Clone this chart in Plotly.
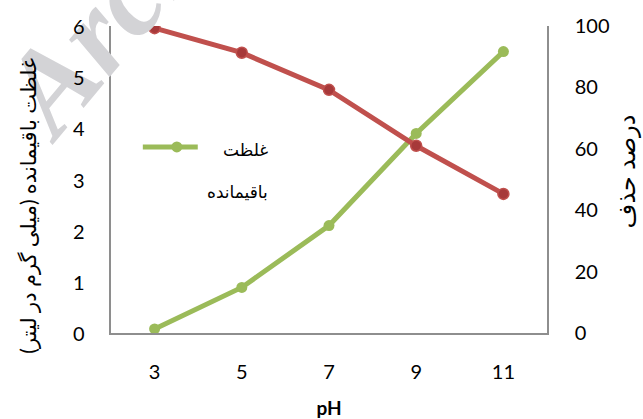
import plotly.graph_objects as go

# pH values tested
ph = [3, 5, 7, 9, 11]
# residual concentration (mg/L), left axis
residual = [0.08, 0.89, 2.1, 3.9, 5.5]
# removal percentage, right axis
removal = [99.3, 91.3, 79.2, 61.0, 45.3]

left_ticks = [0, 1, 2, 3, 4, 5, 6]
right_ticks = [0, 20, 40, 60, 80, 100]

GREEN = "#9BBB59"
RED = "#C0504D"
AXIS = "#8E8E8E"
FONT = "Lato, 'DejaVu Sans', sans-serif"

fig = go.Figure()

fig.add_trace(go.Scatter(
    x=ph, y=removal, yaxis="y2", mode="lines+markers",
    name="درصد حذف",
    line=dict(color=RED, width=5),
    marker=dict(size=11, color="#A7393A", line=dict(color=RED, width=1.5)),
    showlegend=False,
))
fig.add_trace(go.Scatter(
    x=ph, y=residual, mode="lines+markers",
    name="غلظت باقیمانده",
    line=dict(color=GREEN, width=5),
    marker=dict(size=11, color=GREEN),
    showlegend=False,
))

fig.update_layout(
    width=643, height=419,
    margin=dict(l=111, r=96, t=26, b=86, autoexpand=False),
    paper_bgcolor="white", plot_bgcolor="rgba(0,0,0,0)",
    font=dict(family=FONT, size=20, color="#000000"),
    showlegend=False,
    xaxis=dict(
        range=[2, 12], tickvals=ph, ticktext=[str(v) for v in ph],
        showgrid=False, zeroline=False, ticks="",
        showline=True, linecolor=AXIS, linewidth=1.5,
        ticklabelstandoff=20, automargin=False,
        title=dict(text="<b>pH</b>", font=dict(size=19), standoff=20),
    ),
    yaxis=dict(
        range=[0, 6], tickvals=left_ticks,
        showgrid=False, zeroline=False, ticks="",
        showline=True, linecolor=AXIS, linewidth=1.5,
        showticklabels=False, automargin=False,
    ),
    yaxis2=dict(
        range=[0, 100], tickvals=right_ticks, overlaying="y", side="right",
        showgrid=False, zeroline=False, ticks="",
        showline=True, linecolor=AXIS, linewidth=1.5,
        ticklabelstandoff=22, automargin=False,
    ),
)

# faint watermark in the top-left corner (added first so later text sits on top)
fig.add_annotation(
    text="<b><i>Archive</i></b>", textangle=-50,
    xref="paper", yref="paper", x=0.085, y=1.186,
    xanchor="center", yanchor="middle",
    showarrow=False,
    font=dict(family="'Liberation Serif', serif", size=120, color="#D3D3D6"),
)

# left-axis tick labels, written as annotations so they stay above the watermark
for v in left_ticks:
    fig.add_annotation(
        text=str(v), xref="paper", yref="y", x=0, y=v,
        xanchor="right", yanchor="middle", xshift=-24,
        showarrow=False, font=dict(size=20),
    )

# axis titles
fig.add_annotation(
    text="غلظت باقیمانده (میلی گرم در لیتر)", textangle=-90,
    xref="paper", yref="paper", x=-0.191, y=0.414,
    showarrow=False, font=dict(size=21), xanchor="center", yanchor="middle",
)
fig.add_annotation(
    text="درصد حذف", textangle=-90,
    xref="paper", yref="paper", x=1.18, y=0.528,
    showarrow=False, font=dict(size=24), xanchor="center", yanchor="middle",
)

# legend entry for the residual-concentration series
fig.add_shape(type="line", xref="paper", yref="paper",
              x0=0.073, x1=0.199, y0=0.606, y1=0.606,
              line=dict(color=GREEN, width=5))
fig.add_shape(type="circle", xref="paper", yref="paper",
              x0=0.1385, x1=0.1635, y0=0.588, y1=0.624,
              fillcolor=GREEN, line=dict(color=GREEN, width=0))
fig.add_annotation(text="غلظت", xref="paper", yref="paper",
                   x=0.365, y=0.598, xanchor="right", yanchor="middle",
                   showarrow=False, font=dict(size=17))
fig.add_annotation(text="باقیمانده", xref="paper", yref="paper",
                   x=0.365, y=0.46, xanchor="right", yanchor="middle",
                   showarrow=False, font=dict(size=17))

fig.write_html("out.html")
